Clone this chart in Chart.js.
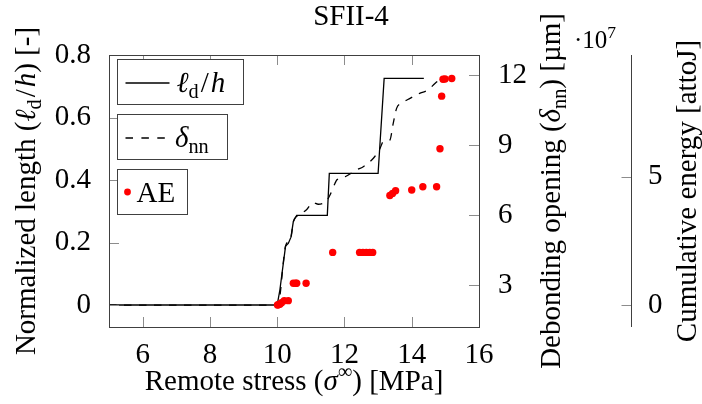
<!DOCTYPE html>
<html>
<head>
<meta charset="utf-8">
<script src="https://cdn.jsdelivr.net/npm/chart.js@4.4.0/dist/chart.umd.min.js"></script>
<style>
  html, body { margin: 0; padding: 0; background: #fff; }
  #wrap { width: 702px; height: 404px; }
</style>
</head>
<body>
<div id="wrap"><canvas id="chart" width="702" height="404"></canvas></div>
<script>
// normalized debond length l_d/h against remote stress [MPa]
const ldStress = [5, 10.0, 10.08, 10.25, 10.33, 10.41, 10.48, 10.58, 11.49, 11.55, 13.0, 13.18, 14.36];
const ldValue  = [0, 0, 0.048, 0.189, 0.197, 0.217, 0.267, 0.287, 0.287, 0.421, 0.421, 0.725, 0.725];

// debonding opening delta_nn [um]
const dnnStress = [5, 10.02, 10.25, 10.41, 10.48, 10.59, 10.73, 10.88, 11.07, 11.22, 11.47, 11.57, 11.72, 11.77,
                   12.02, 12.36, 12.56, 12.86, 13.06, 13.15, 13.35, 13.45, 13.55, 13.7, 13.95, 14.25, 14.49, 14.69, 14.84];
const dnnValue  = [2.14, 2.14, 4.67, 5.04, 5.71, 5.96, 6.07, 6.24, 6.53, 6.46, 6.61, 6.86, 7.36, 7.5,
                   7.64, 7.93, 8.07, 8.43, 8.86, 9.14, 9.21, 9.93, 10.57, 10.79, 11.0, 11.22, 11.36, 11.64, 11.82];

// acoustic emission events, cumulative energy [attoJ]
const aeStress = [10.01, 10.03, 10.08, 10.13, 10.21, 10.33, 10.48, 10.55, 10.58, 10.86, 11.65,
                  12.45, 12.55, 12.65, 12.75, 12.84, 13.35, 13.43, 13.52, 14.0, 14.33, 14.74,
                  14.84, 14.89, 14.93, 14.99, 15.19];
const aeEnergy = [0, 0.01e7, 0.03e7, 0.09e7, 0.17e7, 0.17e7, 0.85e7, 0.85e7, 0.85e7, 0.85e7, 2.05e7,
                  2.05e7, 2.05e7, 2.05e7, 2.05e7, 2.05e7, 4.27e7, 4.35e7, 4.45e7, 4.48e7, 4.61e7, 4.61e7,
                  6.09e7, 8.14e7, 8.8e7, 8.81e7, 8.83e7];

const stressTicks = [6, 8, 10, 12, 14, 16];
const lengthTicks = [0, 0.2, 0.4, 0.6, 0.8];
const openingTicks = [3, 6, 9, 12];
const energyTicks = [0, 5e7];

const FONT = '"Liberation Serif", "Times New Roman", serif';
const FS = 29;

const toPoints = (xs, ys) => xs.map((x, i) => ({ x, y: ys[i] }));
const setTicks = list => scale => { scale.ticks = list.map(v => ({ value: v })); };

// small rich-text helper for italics, sub- and superscripts
function partFont(p, size) {
  const s = p.s ? size * 0.7 : size;
  return (p.i ? 'italic ' : '') + s + 'px ' + FONT;
}
function richWidth(ctx, parts, size) {
  let w = 0;
  parts.forEach(p => { ctx.font = partFont(p, size); w += ctx.measureText(p.t).width + (p.gap || 0); });
  return w;
}
function drawRich(ctx, parts, x, y, size, center) {
  let cx = center ? x - richWidth(ctx, parts, size) / 2 : x;
  ctx.textAlign = 'left';
  ctx.textBaseline = 'alphabetic';
  ctx.fillStyle = '#000';
  parts.forEach(p => {
    ctx.font = partFont(p, size);
    const dy = p.s === 'sub' ? size * 0.2 : p.s === 'sup' ? -size * 0.4 : 0;
    ctx.fillText(p.t, cx, y + dy);
    cx += ctx.measureText(p.t).width + (p.gap || 0);
  });
}
function drawRotated(ctx, parts, x, y, size) {
  ctx.save();
  ctx.translate(x, y);
  ctx.rotate(-Math.PI / 2);
  drawRich(ctx, parts, 0, 0, size, true);
  ctx.restore();
}

const ldLabel = [{ t: 'ℓ', i: 1 }, { t: 'd', s: 'sub', gap: 2 }, { t: '/', gap: 2 }, { t: 'h', i: 1 }];
const dnnLabel = [{ t: 'δ', i: 1 }, { t: 'nn', s: 'sub' }];

const xTitle = [{ t: 'Remote stress (' }, { t: 'σ', i: 1 }, { t: '∞', s: 'sup' }, { t: ') [MPa]' }];
const yTitle = [{ t: 'Normalized length (' }].concat(ldLabel, [{ t: ') [-]' }]);
const y2Title = [{ t: 'Debonding opening (' }].concat(dnnLabel, [{ t: ') [µm]' }]);
const y3Title = [{ t: 'Cumulative energy [attoJ]' }];
const y3Exp = [{ t: '·10' }, { t: '7', s: 'sup' }];

const decor = {
  id: 'decor',
  afterDraw(chart) {
    const { ctx, chartArea: a, scales } = chart;
    const TL = 10;
    const px = v => Math.round(v) + 0.5;
    ctx.save();

    // inward tick marks
    ctx.strokeStyle = '#8c8c8c';
    ctx.lineWidth = 1;
    ctx.beginPath();
    stressTicks.forEach(v => {
      const p = px(scales.x.getPixelForValue(v));
      ctx.moveTo(p, a.bottom); ctx.lineTo(p, a.bottom - TL);
      ctx.moveTo(p, a.top); ctx.lineTo(p, a.top + TL);
    });
    lengthTicks.forEach(v => {
      const p = px(scales.y.getPixelForValue(v));
      ctx.moveTo(a.left, p); ctx.lineTo(a.left + TL, p);
    });
    openingTicks.forEach(v => {
      const p = px(scales.y2.getPixelForValue(v));
      ctx.moveTo(a.right, p); ctx.lineTo(a.right - TL, p);
    });
    const ex = px(scales.y3.left);
    energyTicks.forEach(v => {
      const p = px(scales.y3.getPixelForValue(v));
      ctx.moveTo(ex, p); ctx.lineTo(ex - TL, p);
    });
    ctx.stroke();

    // axis frame and the detached energy axis
    ctx.strokeStyle = '#404040';
    ctx.strokeRect(px(a.left), px(a.top), Math.round(a.width), Math.round(a.height));
    ctx.beginPath();
    ctx.moveTo(ex, a.top); ctx.lineTo(ex, a.bottom);
    ctx.stroke();

    // axis titles
    const cy = (a.top + a.bottom) / 2;
    drawRich(ctx, xTitle, (a.left + a.right) / 2, 390, FS, true);
    drawRotated(ctx, yTitle, 35, cy, FS);
    drawRotated(ctx, y2Title, scales.y2.left + 81, cy, FS);
    drawRotated(ctx, y3Title, scales.y3.left + 65, cy, FS);
    drawRich(ctx, y3Exp, scales.y3.left - 57, 48, 25, false);

    // legend, one box per series
    const bl = a.left + 8.5;
    const boxes = [
      { top: 59.5, w: 126, kind: 'solid', tx: 59, parts: ldLabel },
      { top: 114.5, w: 110, kind: 'dash', tx: 57.5, parts: dnnLabel },
      { top: 169.5, w: 70, kind: 'dot', tx: 19, parts: [{ t: 'AE' }] }
    ];
    boxes.forEach(b => {
      const h = 45;
      const mid = b.top + h / 2;
      ctx.fillStyle = '#fff';
      ctx.fillRect(bl, b.top, b.w, h);
      ctx.strokeStyle = '#404040';
      ctx.lineWidth = 1;
      ctx.setLineDash([]);
      ctx.strokeRect(bl, b.top, b.w, h);
      ctx.strokeStyle = '#000';
      ctx.lineWidth = 1.3;
      if (b.kind === 'solid' || b.kind === 'dash') {
        if (b.kind === 'dash') ctx.setLineDash([7.5, 8.4]);
        ctx.beginPath();
        ctx.moveTo(bl + 8, mid + 1); ctx.lineTo(bl + (b.kind === 'dash' ? 48 : 52), mid + 1);
        ctx.stroke();
        ctx.setLineDash([]);
      } else {
        ctx.fillStyle = '#ff0000';
        ctx.beginPath();
        ctx.arc(bl + 10, mid, 3.4, 0, Math.PI * 2);
        ctx.fill();
      }
      drawRich(ctx, b.parts, bl + b.tx, mid + 10, FS, false);
    });
    ctx.restore();
  }
};

const tickFont = { family: FONT, size: FS };

new Chart(document.getElementById('chart'), {
  type: 'line',
  data: {
    datasets: [
      {
        label: 'AE',
        type: 'scatter',
        data: toPoints(aeStress, aeEnergy),
        yAxisID: 'y3',
        showLine: false,
        pointRadius: 3.7,
        pointBackgroundColor: '#ff0000',
        pointBorderWidth: 0,
        order: 0
      },
      {
        label: 'l_d/h',
        data: toPoints(ldStress, ldValue),
        yAxisID: 'y',
        borderColor: '#000',
        borderWidth: 1.3,
        pointRadius: 0,
        tension: 0,
        order: 1
      },
      {
        label: 'delta_nn',
        data: toPoints(dnnStress, dnnValue),
        yAxisID: 'y2',
        borderColor: '#000',
        borderWidth: 1.3,
        borderDash: [7.5, 7.5],
        pointRadius: 0,
        cubicInterpolationMode: 'monotone',
        order: 2
      }
    ]
  },
  options: {
    responsive: false,
    animation: false,
    devicePixelRatio: 1,
    layout: { padding: 0 },
    plugins: {
      legend: { display: false },
      tooltip: { enabled: false },
      title: {
        display: true,
        text: 'SFII-4',
        color: '#000',
        font: { family: FONT, size: FS, weight: 'normal', lineHeight: 1.2 },
        padding: { top: 0, bottom: 20.2 }
      }
    },
    scales: {
      x: {
        type: 'linear',
        min: 5, max: 16,
        afterBuildTicks: setTicks(stressTicks),
        afterFit: s => { s.height = 77; },
        grid: { display: false },
        border: { display: false },
        ticks: { font: tickFont, color: '#000', padding: 3, maxRotation: 0, autoSkip: false }
      },
      y: {
        position: 'left',
        min: -0.0704, max: 0.8,
        afterBuildTicks: setTicks(lengthTicks),
        afterFit: s => { s.width = 109; },
        grid: { display: false },
        border: { display: false },
        ticks: { font: tickFont, color: '#000', padding: 10, callback: v => String(v) }
      },
      y2: {
        position: 'right',
        min: 1.2, max: 12.857,
        afterBuildTicks: setTicks(openingTicks),
        afterFit: s => { s.width = 152; },
        grid: { display: false },
        border: { display: false },
        ticks: { font: tickFont, color: '#000', padding: 11, callback: v => String(v) }
      },
      y3: {
        position: 'right',
        min: -0.857e7, max: 9.743e7,
        afterBuildTicks: setTicks(energyTicks),
        afterFit: s => { s.width = 71; },
        grid: { display: false },
        border: { display: false },
        ticks: { font: tickFont, color: '#000', padding: 9, callback: v => String(v / 1e7) }
      }
    }
  },
  plugins: [decor]
});
</script>
</body>
</html>
